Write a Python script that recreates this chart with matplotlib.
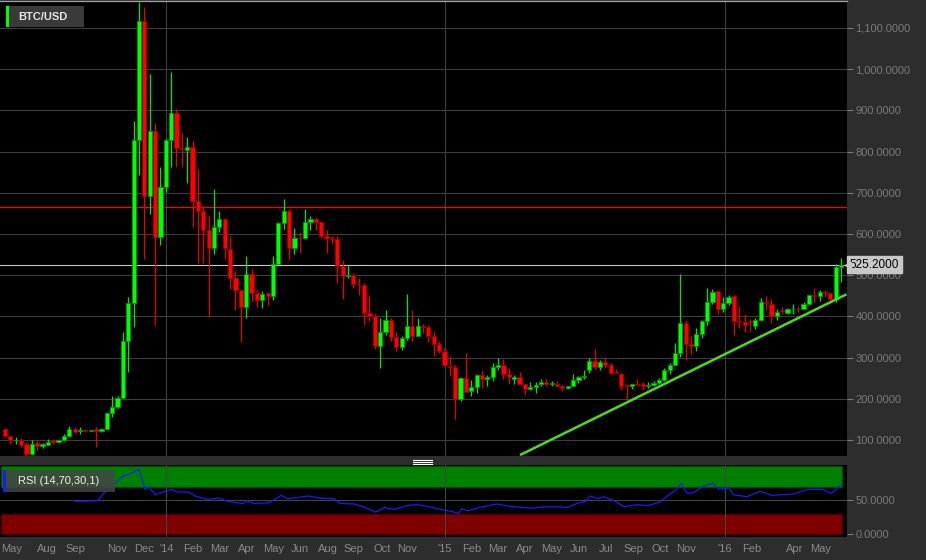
import matplotlib
matplotlib.use('Agg')
import matplotlib.pyplot as plt
from matplotlib.patches import Rectangle
from matplotlib.lines import Line2D
from matplotlib.transforms import blended_transform_factory

plt.rcParams['font.family'] = ['Liberation Sans', 'DejaVu Sans']

# ---------------- data (weekly BTC/USD candles) ----------------
opens = [127.5, 109, 99, 100, 90, 66, 92, 86, 88, 100, 94, 100, 110, 127, 121, 125, 123, 126, 121, 127,
         165, 179, 203, 341, 433, 828, 1118, 692, 849, 593, 713, 828, 893, 809, 805, 812, 679, 655, 610, 566,
         618, 636, 563, 492, 464, 424, 503, 458, 440, 458, 449, 527, 626, 657, 567, 591, 591, 630, 637, 629,
         595, 590, 588, 523, 497, 500, 479, 477, 409, 400, 327, 361, 391, 349, 326, 347, 376, 353, 376, 374,
         352, 333, 317, 279, 276, 200, 250, 218, 229, 257, 247, 254, 278, 281, 260, 249, 254, 236, 224, 228,
         236, 242, 237, 237, 232, 226, 232, 245, 252, 271, 292, 276, 289, 281, 264, 261, 234, 231, 235, 235,
         232, 234, 239, 245, 271, 282, 310, 383, 333, 328, 357, 388, 436, 462, 418, 433, 449, 389, 386, 389,
         376, 391, 434, 431, 400, 416, 409, 417, 419, 418, 431, 452, 449, 459, 456, 443, 520]
highs = [130, 110, 108, 105, 94, 100, 98, 92, 102, 100, 101, 115, 135, 132, 131, 127, 125, 131, 128, 166,
         208, 207, 363, 448, 875, 1162, 1152, 988, 870, 763, 830, 994, 904, 846, 835, 825, 757, 668, 647, 710,
         657, 639, 594, 511, 466, 547, 516, 464, 461, 460, 547, 629, 684, 661, 615, 606, 660, 643, 641, 631,
         609, 596, 596, 536, 524, 505, 492, 482, 453, 405, 395, 415, 395, 363, 353, 454, 415, 395, 382, 379,
         362, 341, 323, 305, 281, 254, 310, 245, 260, 270, 257, 286, 299, 296, 275, 257, 265, 237, 241, 241,
         249, 247, 244, 244, 233, 232, 260, 256, 269, 299, 321, 294, 299, 286, 273, 263, 237, 235, 248, 240,
         240, 243, 250, 274, 286, 336, 502, 391, 352, 371, 391, 468, 467, 462, 447, 452, 451, 425, 407, 393,
         396, 444, 449, 443, 417, 422, 420, 430, 425, 436, 452, 470, 465, 465, 458, 528, 541]
lows = [107, 90, 90, 84, 61, 64, 76, 81, 87, 91, 93, 97, 108, 116, 115, 119, 122, 84, 119, 126,
        155, 178, 202, 264, 375, 744, 540, 648, 380, 574, 701, 763, 763, 763, 723, 616, 529, 529, 398, 551,
        606, 539, 466, 416, 338, 396, 435, 422, 420, 427, 440, 525, 611, 537, 552, 554, 588, 609, 609, 591,
        554, 575, 481, 442, 494, 469, 453, 379, 389, 321, 274, 355, 340, 316, 318, 342, 340, 353, 360, 337,
        305, 310, 280, 255, 152, 195, 216, 207, 215, 226, 231, 244, 270, 249, 236, 236, 236, 210, 221, 215,
        231, 231, 231, 230, 220, 223, 231, 239, 247, 263, 273, 271, 274, 260, 263, 221, 197, 224, 232, 222,
        226, 231, 237, 244, 260, 281, 302, 294, 308, 316, 347, 379, 431, 407, 410, 428, 354, 373, 363, 365,
        370, 390, 415, 383, 391, 405, 407, 405, 410, 417, 428, 434, 438, 446, 436, 436, 483]
closes = [109, 100, 101, 89, 66, 90, 85, 90, 96, 96, 100, 110, 127, 119, 124, 122, 124, 121, 127, 165,
          179, 203, 341, 433, 828, 1118, 692, 849, 593, 713, 828, 894, 809, 806, 812, 679, 655, 610, 566, 618,
          636, 566, 492, 464, 424, 503, 458, 440, 454, 449, 527, 626, 657, 567, 591, 590, 629, 637, 629, 596,
          590, 589, 523, 497, 500, 479, 478, 408, 401, 327, 361, 391, 349, 326, 347, 376, 353, 376, 375, 352,
          333, 317, 282, 276, 200, 250, 217, 228, 257, 247, 254, 278, 283, 260, 252, 252, 237, 224, 228, 234,
          242, 237, 238, 232, 226, 231, 245, 252, 256, 292, 276, 289, 281, 263, 263, 232, 232, 235, 234, 231,
          234, 239, 245, 271, 282, 310, 383, 334, 328, 357, 388, 436, 460, 418, 433, 447, 388, 387, 378, 386,
          391, 434, 432, 402, 410, 414, 417, 418, 417, 431, 451, 450, 459, 457, 443, 520, 525.2]

# RSI (14,70,30,1): (candle index, value)
rsi_idx = [13.1, 17.3, 18.4, 20.0, 21.9, 23.6, 25.0, 26.1, 26.9, 28.0, 31.1, 32.2, 34.2, 35.5, 37.7, 39.9,
           41.6, 44.3, 45.2, 46.5, 49.3, 51.5, 52.8, 56.5, 58.7, 61.4, 62.5, 65.3, 67.5, 69.2, 70.8, 72.5,
           75.2, 76.9, 78.6, 81.3, 83.5, 84.6, 85.2, 86.3, 88.5, 91.8, 94.0, 96.8, 98.4, 100.6, 103.4, 105.0,
           106.7, 108.4, 109.1, 110.6, 111.7, 113.9, 115.5, 117.8, 120.0, 122.2, 123.6, 125.5, 126.2, 127.1,
           128.2, 130.2, 132.1, 133.2, 135.1, 135.9, 138.4, 140.9, 143.1, 147.0, 149.8, 152.5, 154.2, 155.9]
rsi_vals = [48, 49, 60, 70, 85, 90, 96, 66, 69, 58, 66, 62, 62, 56, 51, 53,
            48, 45, 49, 45, 46, 57, 52, 56, 53, 52, 45, 44, 38, 32, 39, 36,
            42, 43, 41, 36, 33, 30, 37, 34, 39, 44, 41, 39, 38, 40, 40, 39,
            45, 48, 56, 52, 55, 48, 40, 43, 42, 47, 56, 67, 75, 61,
            60, 70, 75, 66, 68, 58, 55, 63, 57, 59, 66, 66, 60, 72]

month_labels = ['May', 'Aug', 'Sep', 'Nov', 'Dec', "'14", 'Feb', 'Mar', 'Apr', 'May', 'Jun', 'Aug', 'Sep',
                'Oct', 'Nov', "'15", 'Feb', 'Mar', 'Apr', 'May', 'Jun', 'Jul', 'Sep', 'Oct', 'Nov', "'16",
                'Feb', 'Apr', 'May']
month_idx = [1.3, 7.9, 13.1, 20.9, 26.0, 30.1, 35.1, 40.0, 45.0, 50.1, 55.0, 60.2, 65.0,
             70.3, 75.0, 82.1, 87.1, 92.0, 97.0, 102.0, 107.1, 112.1, 117.2, 122.2, 127.1, 134.3,
             139.3, 147.3, 152.1]
year_idx = [30.1, 82.1, 134.3]

price_ticks = [100, 200, 300, 400, 500, 600, 700, 800, 900, 1000, 1100]
last_price = 525.2
red_level = 665
trend_idx = [96.1, 157.0]
trend_vals = [63.5, 453.6]

# ---------------- figure ----------------
W, H = 926, 560
BG = '#2d2d2d'
fig = plt.figure(figsize=(W / 100, H / 100), dpi=100, facecolor=BG)

def fx(px):
    return px / W

def fy(py):
    return 1 - py / H

PANEL_R = 847
ax = fig.add_axes([0, fy(456), fx(PANEL_R), (456 - 1) / H])
rx = fig.add_axes([0, fy(537), fx(PANEL_R), (537 - 465) / H], sharex=ax)

XMIN, XMAX = -0.93, 157.1
for a in (ax, rx):
    a.set_facecolor('black')
    for s in ('left', 'right', 'bottom', 'top'):
        a.spines[s].set_visible(False)
ax.spines['top'].set_visible(True)
ax.spines['top'].set_color('#a0a0a0')
ax.spines['top'].set_linewidth(0.9)

ax.set_xlim(XMIN, XMAX)
ax.set_ylim(61.2, 1165.5)

# grid
for v in price_ticks:
    ax.axhline(v, color='#3d3d3d', lw=0.8, zorder=0)
for xi in year_idx:
    ax.axvline(xi, color='#3d3d3d', lw=0.8, zorder=0)
    rx.axvline(xi, color='#444444', lw=0.8, zorder=2)

# level lines
ax.axhline(red_level, color='#ff0000', lw=0.9, zorder=2)
ax.axhline(last_price, color='#c8c8c8', lw=0.8, zorder=2)

# candles
xs = list(range(len(opens)))
up_x, up_b, up_h = [], [], []
dn_x, dn_b, dn_h = [], [], []
for i, (o, c) in enumerate(zip(opens, closes)):
    h = max(abs(c - o), 1.2)
    if c >= o:
        up_x.append(i); up_b.append(min(o, c)); up_h.append(h)
    else:
        dn_x.append(i); dn_b.append(min(o, c)); dn_h.append(h)
up_set = set(up_x)
ax.vlines([i for i in xs if i in up_set], [lows[i] for i in xs if i in up_set],
          [highs[i] for i in xs if i in up_set], color='#00e800', lw=0.9, zorder=3)
ax.vlines([i for i in xs if i not in up_set], [lows[i] for i in xs if i not in up_set],
          [highs[i] for i in xs if i not in up_set], color='#e80000', lw=0.9, zorder=3)
ax.bar(up_x, up_h, bottom=up_b, width=0.78, color='#00ff00', edgecolor='#009a00', lw=0.6, zorder=4)
ax.bar(dn_x, dn_h, bottom=dn_b, width=0.78, color='#ff0000', edgecolor='#a00000', lw=0.6, zorder=4)

# trend line
ax.plot(trend_idx, trend_vals, color='#4cdc1e', lw=1.8, zorder=5, solid_capstyle='butt')

# y axis on right
ax.yaxis.tick_right()
ax.set_yticks(price_ticks)
ax.set_yticklabels([f'{v:,.4f}' for v in price_ticks])
ax.tick_params(axis='y', colors='#7a7a7a', labelsize=8, length=4, width=0.8, pad=2)
ax.tick_params(axis='x', bottom=False, labelbottom=False)

# last price tag
tr = blended_transform_factory(ax.transAxes, ax.transData)
ax.text(1.0035, last_price, '525.2000', transform=tr, ha='left', va='center', fontsize=8.5,
        color='black', bbox=dict(boxstyle='square,pad=0.22', facecolor='#c8c8c8', edgecolor='#c8c8c8'),
        zorder=10, clip_on=False)
ax.plot([1.0015], [last_price], marker='<', ms=4.5, color='#c8c8c8', transform=tr, clip_on=False, zorder=10)

# ---------------- RSI panel ----------------
rx.set_ylim(-4.9, 102.1)
rx.axhspan(70, 100, xmin=0.001, xmax=842 / PANEL_R, facecolor='#008000', edgecolor='#004d00', lw=0.9, zorder=1)
rx.axhspan(0, 30, xmin=0.001, xmax=842 / PANEL_R, facecolor='#800000', edgecolor='#4a0000', lw=0.9, zorder=1)
rx.axhline(50, color='#444444', lw=0.8, zorder=1)
rx.plot(rsi_idx, rsi_vals, color='#1a1aff', lw=0.9, zorder=3)
rx.yaxis.tick_right()
rx.set_yticks([0, 50])
rx.set_yticklabels(['0.0000', '50.0000'])
rx.tick_params(axis='y', colors='#7a7a7a', labelsize=8, length=4, width=0.8, pad=2)
rx.set_xticks(month_idx)
rx.set_xticklabels(month_labels)
rx.tick_params(axis='x', colors='#8a8a8a', labelsize=8, length=0, pad=5)
rx.set_xlim(XMIN, XMAX)

# ---------------- overlays ----------------
def frect(x0, y0, x1, y1, color, alpha=1.0, z=20):
    fig.add_artist(Rectangle((fx(x0), fy(y1)), fx(x1 - x0), (y1 - y0) / H,
                             transform=fig.transFigure, facecolor=color, edgecolor='none',
                             alpha=alpha, zorder=z))

# title box
frect(8, 6, 84, 27, '#3a3a3a')
frect(6, 6, 9, 27, '#00ff00')
fig.text(fx(18), fy(16.8), 'BTC/USD', color='#e6e6e6', fontsize=8, fontweight='bold',
         ha='left', va='center', zorder=21)

# RSI label box
frect(6, 470, 115, 492, '#444444', alpha=0.85)
frect(3, 470, 6, 492, '#1a1aff')
fig.text(fx(17.5), fy(481), 'RSI (14,70,30,1)', color='#f0f0f0', fontsize=8,
         ha='left', va='center', zorder=21)

# splitter grip
for yy in (459.5, 461.5, 463.5):
    fig.add_artist(Line2D([fx(413), fx(432)], [fy(yy), fy(yy)], transform=fig.transFigure,
                          color='white', lw=0.8, zorder=20))

fig.savefig('out.png', dpi=100, facecolor=BG)
